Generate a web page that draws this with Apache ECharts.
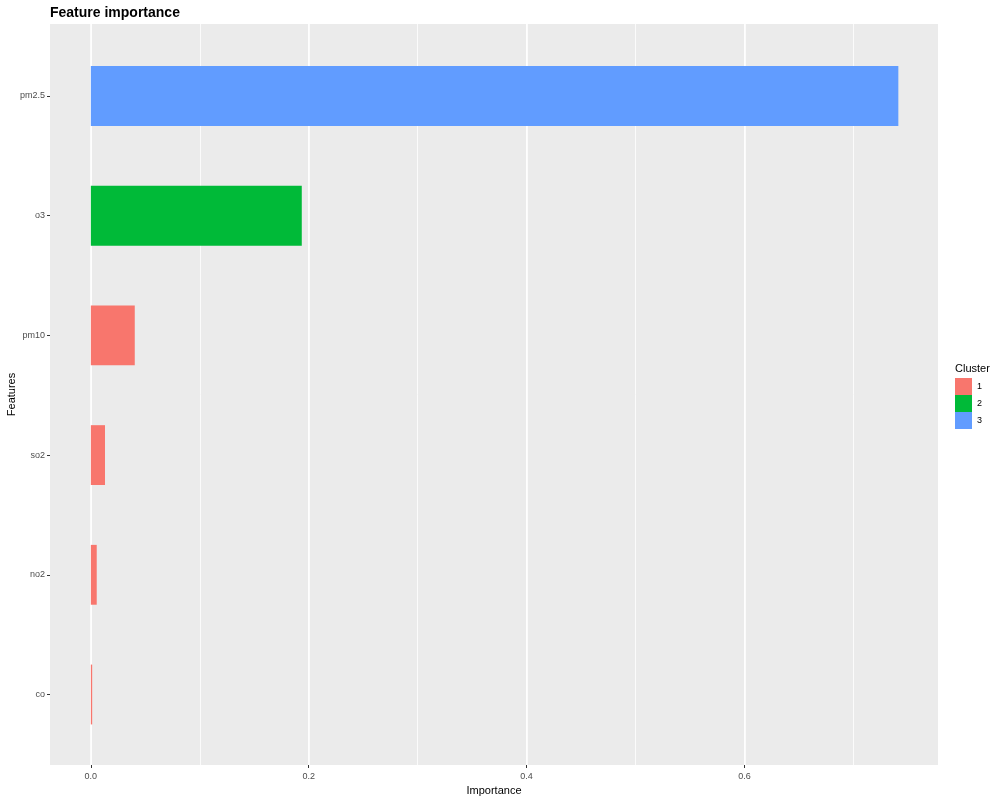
<!DOCTYPE html>
<html>
<head>
<meta charset="utf-8">
<script src="https://cdn.jsdelivr.net/npm/echarts@6/dist/echarts.min.js"></script>
<style>
  html, body { margin: 0; padding: 0; background: #fff; }
  #main { width: 1000px; height: 800px; }
</style>
</head>
<body>
<div id="main"></div>
<script>
// data (top to bottom)
var features = ['pm2.5', 'o3', 'pm10', 'so2', 'no2', 'co'];
var importance = [0.7412, 0.1936, 0.0403, 0.0130, 0.0054, 0.0012];
var cluster = ['3', '2', '1', '1', '1', '1'];
var clusterNames = ['1', '2', '3'];
var clusterColors = ['#F8766D', '#00BA38', '#619CFF'];
var majorTicks = [0, 0.6]; // labelled range
var xRange = [-0.0375, 0.7776]; // panel extent

var FONT = 'Liberation Sans, Arial, sans-serif';
var ZERO_X = 90.8, PX_PER_UNIT = 1089.5;

var chart = echarts.init(document.getElementById('main'), null, { renderer: 'canvas' });

// one series per cluster so the legend matches
var series = clusterNames.map(function (c, k) {
    return {
        name: c,
        type: 'bar',
        stack: 'imp',
        xAxisIndex: 3,
        yAxisIndex: 3,
        barWidth: '50%',
        itemStyle: { color: clusterColors[k] },
        data: importance.map(function (v, i) { return cluster[i] === c ? v : null; }),
        z: 5
    };
});

var hiddenY = { show: false, type: 'value', min: 0, max: 1 };

var option = {
    animation: false,
    textStyle: { fontFamily: FONT },
    title: [
        {
            text: 'Feature importance', left: 50, top: 6, padding: 0,
            textStyle: { fontFamily: FONT, fontWeight: 'bold', fontSize: 14, color: '#000' }
        },
        {
            text: 'Cluster', left: 955, top: 363, padding: 0,
            textStyle: { fontFamily: FONT, fontWeight: 'normal', fontSize: 11, color: '#000' }
        }
    ],
    legend: {
        data: clusterNames,
        orient: 'vertical',
        left: 955, top: 378,
        padding: 0,
        itemWidth: 17, itemHeight: 17, itemGap: 0,
        icon: 'rect',
        textStyle: { fontFamily: FONT, fontSize: 9, color: '#000' }
    },
    grid: [
        // panel background
        { left: 50, right: 62, top: 24, bottom: 35, show: true, backgroundColor: '#EBEBEB', borderWidth: 0, outerBoundsMode: 'none' },
        // major grid + labels
        { left: ZERO_X, width: 0.6 * PX_PER_UNIT, top: 24, bottom: 35, outerBoundsMode: 'none' },
        // minor grid
        { left: ZERO_X, width: 0.7 * PX_PER_UNIT, top: 24, bottom: 35, outerBoundsMode: 'none' },
        // bars
        { left: 50, right: 62, top: 36.15, bottom: 45.65, outerBoundsMode: 'none' }
    ],
    xAxis: [
        {
            gridIndex: 0, type: 'value', min: 0, max: 1,
            axisLine: { show: false }, axisTick: { show: false }, axisLabel: { show: false }, splitLine: { show: false },
            name: 'Importance', nameLocation: 'middle', nameGap: 20,
            nameTextStyle: { fontFamily: FONT, fontSize: 11, color: '#000' }
        },
        {
            gridIndex: 1, type: 'value', min: majorTicks[0], max: majorTicks[1], interval: 0.2,
            axisLine: { show: false },
            axisTick: { show: true, length: 3, lineStyle: { color: '#333', width: 1 } },
            axisLabel: {
                margin: 7, fontSize: 9, color: '#4D4D4D', fontFamily: FONT,
                formatter: function (v) { return v.toFixed(1); }
            },
            splitLine: { show: true, lineStyle: { color: '#FFFFFF', width: 1.6 } },
            z: 2
        },
        {
            gridIndex: 2, type: 'value', min: 0, max: 0.7, interval: 0.1,
            axisLine: { show: false }, axisTick: { show: false }, axisLabel: { show: false },
            splitLine: { show: true, lineStyle: { color: '#FFFFFF', width: 0.8 } },
            z: 1
        },
        {
            gridIndex: 3, type: 'value', min: xRange[0], max: xRange[1], show: false
        }
    ],
    yAxis: [
        {
            gridIndex: 0, type: 'value', min: 0, max: 1,
            axisLine: { show: false }, axisTick: { show: false }, axisLabel: { show: false }, splitLine: { show: false },
            name: 'Features', nameLocation: 'middle', nameGap: 33, nameRotate: 90,
            nameTextStyle: { fontFamily: FONT, fontSize: 11, color: '#000' }
        },
        Object.assign({ gridIndex: 1 }, hiddenY),
        Object.assign({ gridIndex: 2 }, hiddenY),
        {
            gridIndex: 3, type: 'category', inverse: true, data: features,
            axisLine: { show: false, onZero: false },
            axisTick: { show: true, alignWithLabel: true, length: 3, lineStyle: { color: '#333', width: 1 } },
            axisLabel: { margin: 5, fontSize: 9, color: '#4D4D4D', fontFamily: FONT },
            splitLine: { show: false }
        }
    ],
    series: series
};

chart.setOption(option);
</script>
</body>
</html>
